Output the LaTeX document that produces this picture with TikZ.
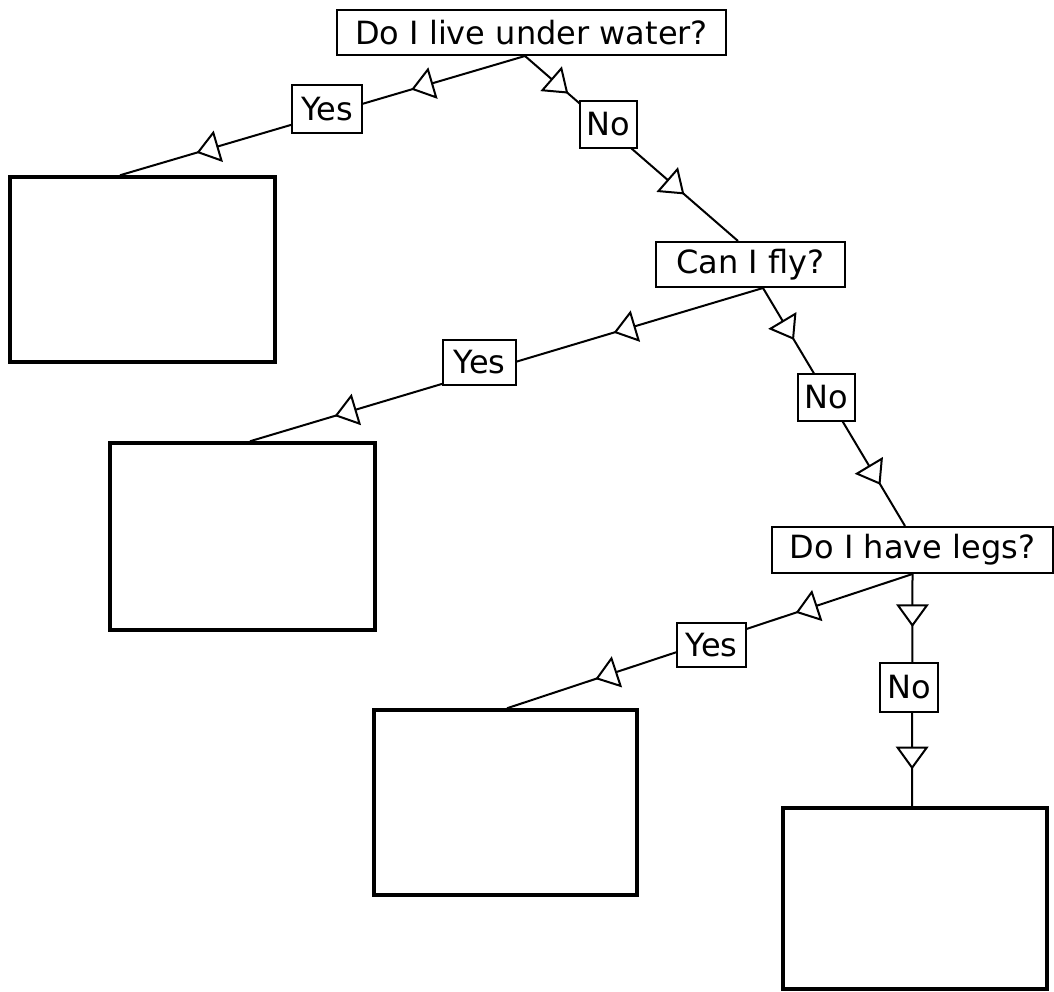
\documentclass[tikz,border=0pt]{standalone}
\usepackage{fontspec}
\setmainfont{DejaVu Sans}
\usetikzlibrary{decorations.markings}
\tikzset{
  qbox/.style={draw, line width=2pt, inner sep=0pt, minimum height=45pt, font=\fontsize{32}{38}\selectfont},
  leaf/.style={draw, line width=3.5pt, inner sep=0pt, minimum width=265pt, minimum height=185pt},
  lbl/.style={draw, fill=white, line width=2pt, inner sep=0pt, minimum height=46pt, font=\fontsize{32}{38}\selectfont},
  conn/.style 2 args={line width=2pt, postaction={decorate},
    decoration={markings,
      mark=at position #1 with {\draw[line width=2pt, fill=white] (0pt,0pt) -- (-20pt,14.5pt) -- (-20pt,-14.5pt) -- cycle;},
      mark=at position #2 with {\draw[line width=2pt, fill=white] (0pt,0pt) -- (-20pt,14.5pt) -- (-20pt,-14.5pt) -- cycle;}}}
}
\begin{document}
\begin{tikzpicture}[x=1pt, y=-1pt]
\useasboundingbox (0,0) rectangle (1054,991);
% question boxes
\node[qbox, minimum width=389pt] (q1) at (531.5,32.5) {Do I live under water?};
\node[qbox, minimum width=189pt] (q2) at (750.5,264.5) {Can I fly?};
\node[qbox, minimum width=281pt, minimum height=46pt] (q3) at (912.5,550) {Do I have legs?};
% leaf boxes
\node[leaf] (b1) at (142.5,269.5) {};
\node[leaf, minimum height=187pt] (b2) at (242.5,536.5) {};
\node[leaf, minimum width=263pt] (b3) at (505.5,802.5) {};
\node[leaf, minimum width=264pt, minimum height=181pt] (b4) at (915,898.5) {};
% connection points
\coordinate (q1o) at ([xshift=-6.5pt]q1.south);
\coordinate (q2i) at ([xshift=-12.5pt]q2.north);
\coordinate (q2o) at ([xshift=12.5pt]q2.south);
\coordinate (q3i) at ([xshift=-7.5pt]q3.north);
\coordinate (q3o) at (q3.south);
\coordinate (b1i) at ([xshift=-22.5pt]b1.north);
\coordinate (b2i) at ([xshift=7.5pt]b2.north);
\coordinate (b3i) at ([xshift=1.5pt]b3.north);
\coordinate (b4i) at ([xshift=-3pt]b4.north);
% connectors
\draw[conn={0.277}{0.807}] (q1o) -- (b1i);
\draw[conn={0.197}{0.742}] (q1o) -- (q2i);
\draw[conn={0.288}{0.832}] (q2o) -- (b2i);
\draw[conn={0.212}{0.821}] (q2o) -- (q3i);
\draw[conn={0.284}{0.778}] (q3o) -- (b3i);
\draw[conn={0.221}{0.834}] (q3o) -- (b4i);
% labels
\node[lbl, minimum width=70pt, minimum height=48pt] (y1) at (327,109) {Yes};
\node[lbl, minimum width=57pt, minimum height=47pt] (n1) at (608.5,124.5) {No};
\node[lbl, minimum width=73pt, minimum height=45pt] (y2) at (479.5,362.5) {Yes};
\node[lbl, minimum width=57pt, minimum height=47pt] (n2) at (826.5,397.5) {No};
\node[lbl, minimum width=69pt, minimum height=44pt] (y3) at (711.5,645) {Yes};
\node[lbl, minimum width=58pt, minimum height=49pt] (n3) at (909,687.5) {No};
\end{tikzpicture}
\end{document}
